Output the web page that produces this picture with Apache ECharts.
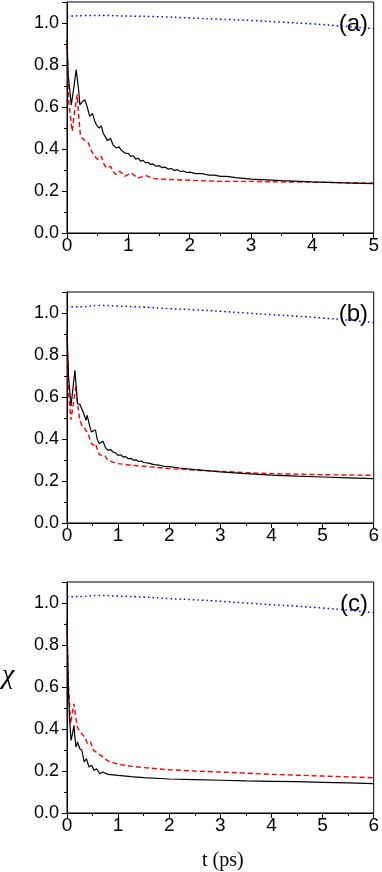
<!DOCTYPE html>
<html lang="en">
<head>
	<meta charset="UTF-8">
	<title>chi vs t</title>
	<script src="https://cdn.jsdelivr.net/npm/echarts@6/dist/echarts.min.js"></script>
	<style>
		html, body { margin: 0; padding: 0; background: #fff; }
		#main { width: 382px; height: 872px; }
	</style>
</head>
<body>
	<div id="main"></div>
	<script>
		// panel (a)
		var blackA = [[0,0.92],[0.02,0.75],[0.07,0.61],[0.11,0.69],[0.15,0.778],[0.19,0.68],[0.21,0.61],[0.25,0.625],[0.29,0.635],[0.33,0.60],[0.37,0.555],[0.415,0.57],[0.45,0.535],[0.48,0.515],[0.52,0.50],[0.56,0.51],[0.59,0.475],[0.62,0.46],[0.66,0.44],[0.71,0.45],[0.75,0.42],[0.8,0.405],[0.85,0.41],[0.88,0.395],[0.91,0.40],[0.95,0.38],[1.0,0.378],[1.04,0.365],[1.08,0.368],[1.12,0.352],[1.16,0.356],[1.2,0.342],[1.24,0.346],[1.28,0.334],[1.32,0.337],[1.36,0.326],[1.4,0.329],[1.45,0.318],[1.5,0.321],[1.55,0.311],[1.6,0.314],[1.65,0.304],[1.7,0.307],[1.75,0.298],[1.8,0.301],[1.85,0.293],[1.9,0.295],[1.95,0.288],[2.0,0.29],[2.1,0.283],[2.2,0.283],[2.3,0.276],[2.4,0.276],[2.5,0.27],[2.6,0.27],[2.75,0.264],[3.0,0.257],[3.25,0.253],[3.5,0.249],[4.0,0.243],[4.5,0.239],[5.0,0.235]];
		var redA = [[0,0.90],[0.03,0.62],[0.085,0.484],[0.12,0.57],[0.167,0.659],[0.19,0.56],[0.22,0.46],[0.275,0.444],[0.345,0.43],[0.4,0.39],[0.45,0.365],[0.5,0.35],[0.56,0.365],[0.6,0.33],[0.64,0.31],[0.71,0.317],[0.76,0.29],[0.8,0.278],[0.86,0.294],[0.94,0.27],[1.05,0.286],[1.15,0.262],[1.29,0.273],[1.4,0.26],[1.5,0.257],[2.0,0.251],[2.5,0.246],[3.0,0.246],[3.5,0.243],[4.0,0.242],[5.0,0.238]];
		var blueA = [[0,1.032],[0.5,1.036],[1,1.033],[1.5,1.03],[2,1.024],[2.5,1.018],[3,1.012],[3.5,1.004],[4,0.996],[4.5,0.985],[5,0.973]];

		// panel (b)
		var blackB = [[0,0.917],[0.03,0.70],[0.078,0.556],[0.12,0.65],[0.155,0.727],[0.18,0.65],[0.207,0.568],[0.25,0.565],[0.285,0.571],[0.33,0.52],[0.37,0.489],[0.395,0.513],[0.44,0.465],[0.48,0.433],[0.556,0.444],[0.59,0.40],[0.63,0.378],[0.705,0.389],[0.75,0.36],[0.8,0.346],[0.85,0.35],[0.9,0.338],[0.95,0.334],[1.0,0.322],[1.05,0.325],[1.1,0.314],[1.15,0.316],[1.2,0.306],[1.25,0.308],[1.3,0.299],[1.35,0.301],[1.4,0.293],[1.45,0.295],[1.5,0.288],[1.6,0.285],[1.7,0.278],[1.8,0.276],[1.9,0.27],[2.0,0.268],[2.2,0.262],[2.5,0.254],[3.0,0.243],[3.5,0.235],[4.0,0.228],[4.5,0.223],[5.0,0.219],[5.5,0.215],[6.0,0.211]];
		var redB = [[0,0.886],[0.03,0.62],[0.078,0.492],[0.13,0.58],[0.175,0.651],[0.21,0.56],[0.25,0.489],[0.3,0.46],[0.35,0.449],[0.41,0.425],[0.48,0.378],[0.52,0.37],[0.56,0.378],[0.6,0.345],[0.63,0.327],[0.68,0.322],[0.74,0.322],[0.8,0.298],[0.9,0.29],[1.0,0.283],[1.25,0.275],[1.5,0.27],[2.0,0.259],[2.5,0.252],[3.0,0.246],[3.5,0.24],[4.0,0.235],[5.0,0.23],[6.0,0.227]];
		var blueB = [[0,1.03],[0.3,1.03],[0.6,1.036],[1,1.033],[1.5,1.028],[2,1.021],[2.5,1.015],[3,1.008],[3.5,1.0],[4,0.992],[4.5,0.985],[5,0.976],[5.5,0.966],[6,0.954]];

		// panel (c)
		var blackC = [[0,0.917],[0.026,0.60],[0.05,0.45],[0.078,0.346],[0.11,0.38],[0.136,0.417],[0.155,0.36],[0.175,0.314],[0.207,0.338],[0.25,0.306],[0.29,0.30],[0.336,0.243],[0.38,0.259],[0.43,0.219],[0.48,0.227],[0.53,0.203],[0.58,0.211],[0.64,0.187],[0.7,0.195],[0.8,0.184],[0.9,0.182],[1.0,0.179],[1.25,0.173],[1.5,0.168],[2.0,0.162],[2.5,0.159],[3.0,0.156],[3.5,0.153],[4.0,0.151],[4.5,0.149],[5.0,0.146],[5.5,0.143],[6.0,0.14]];
		var redC = [[0,0.87],[0.026,0.63],[0.07,0.425],[0.1,0.47],[0.136,0.52],[0.17,0.46],[0.2,0.41],[0.25,0.39],[0.285,0.378],[0.35,0.362],[0.4,0.33],[0.46,0.338],[0.52,0.298],[0.61,0.283],[0.7,0.267],[0.8,0.248],[0.9,0.24],[1.0,0.232],[1.25,0.223],[1.5,0.216],[2.0,0.206],[2.5,0.2],[3.0,0.195],[3.5,0.19],[4.0,0.184],[4.5,0.18],[5.0,0.176],[5.5,0.172],[6.0,0.168]];
		var blueC = [[0,1.03],[0.3,1.031],[0.6,1.036],[1,1.033],[1.5,1.028],[2,1.021],[2.5,1.015],[3,1.008],[3.5,1.0],[4,0.992],[4.5,0.985],[5,0.976],[5.5,0.966],[6,0.954]];

		var panelNames = ['(a)', '(b)', '(c)'];
		var xMaxes = [5, 6, 6];
		var yTicks = ['0.0', '0.2', '0.4', '0.6', '0.8', '1.0'];

		var sans = 'Liberation Sans, Arial, sans-serif';
		var serif = 'Liberation Serif, Times New Roman, serif';
		var tops = [2, 292, 582];
		var panels = [[blackA, redA, blueA], [blackB, redB, blueB], [blackC, redC, blueC]];

		var grids = [], xAxes = [], yAxes = [], series = [], graphics = [];
		for (var i = 0; i < 3; i++) {
			grids.push({
				left: 67, right: 6, top: tops[i], height: 231,
				show: true, borderColor: '#000', borderWidth: 1, backgroundColor: 'transparent'
			});
			xAxes.push({
				gridIndex: i, type: 'value', min: 0, max: xMaxes[i], interval: 1,
				axisLine: { onZero: false, lineStyle: { color: '#000', width: 1 } },
				axisTick: { length: 5, lineStyle: { color: '#000' } },
				minorTick: { show: true, splitNumber: 2, length: 3, lineStyle: { color: '#000' } },
				splitLine: { show: false },
				axisLabel: { color: '#000', fontSize: 19, fontFamily: sans, margin: 3 }
			});
			yAxes.push({
				gridIndex: i, type: 'value', min: 0, max: 1.1, interval: 0.2,
				axisLine: { show: true, onZero: false, lineStyle: { color: '#000', width: 1 } },
				axisTick: { show: true, length: 5, lineStyle: { color: '#000' } },
				minorTick: { show: true, splitNumber: 2, length: 3, lineStyle: { color: '#000' } },
				splitLine: { show: false },
				axisLabel: {
					color: '#000', fontSize: 18, fontFamily: sans, margin: 8, showMaxLabel: false,
					formatter: function (v) {
						var k = Math.round(v / 0.2);
						return Math.abs(v - k * 0.2) < 1e-6 && yTicks[k] ? yTicks[k] : '';
					}
				}
			});
			var d = panels[i];
			series.push({
				type: 'line', xAxisIndex: i, yAxisIndex: i, data: d[2], showSymbol: false, smooth: true,
				lineStyle: { color: '#0000ff', width: 1.5, type: [1.5, 3] }, z: 2
			});
			series.push({
				type: 'line', xAxisIndex: i, yAxisIndex: i, data: d[1], showSymbol: false,
				lineStyle: { color: '#ff0000', width: 1.4, type: [5, 3] }, z: 3
			});
			series.push({
				type: 'line', xAxisIndex: i, yAxisIndex: i, data: d[0], showSymbol: false,
				lineStyle: { color: '#000', width: 1.2 }, z: 4
			});
			graphics.push({
				type: 'text', right: 14, top: tops[i] + 10,
				style: { text: panelNames[i], font: '24px ' + sans, fill: '#000' }
			});
		}
		graphics.push({
			type: 'text', left: 2, top: 662,
			style: { text: 'χ', font: 'italic 28px ' + serif, fill: '#000' }
		});
		graphics.push({
			type: 'text', left: 202, top: 851,
			style: { text: 't (ps)', font: '20px ' + serif, fill: '#000' }
		});

		var chart = echarts.init(document.getElementById('main'));
		chart.setOption({
			animation: false,
			grid: grids,
			xAxis: xAxes,
			yAxis: yAxes,
			series: series,
			graphic: graphics
		});
	</script>
</body>
</html>
